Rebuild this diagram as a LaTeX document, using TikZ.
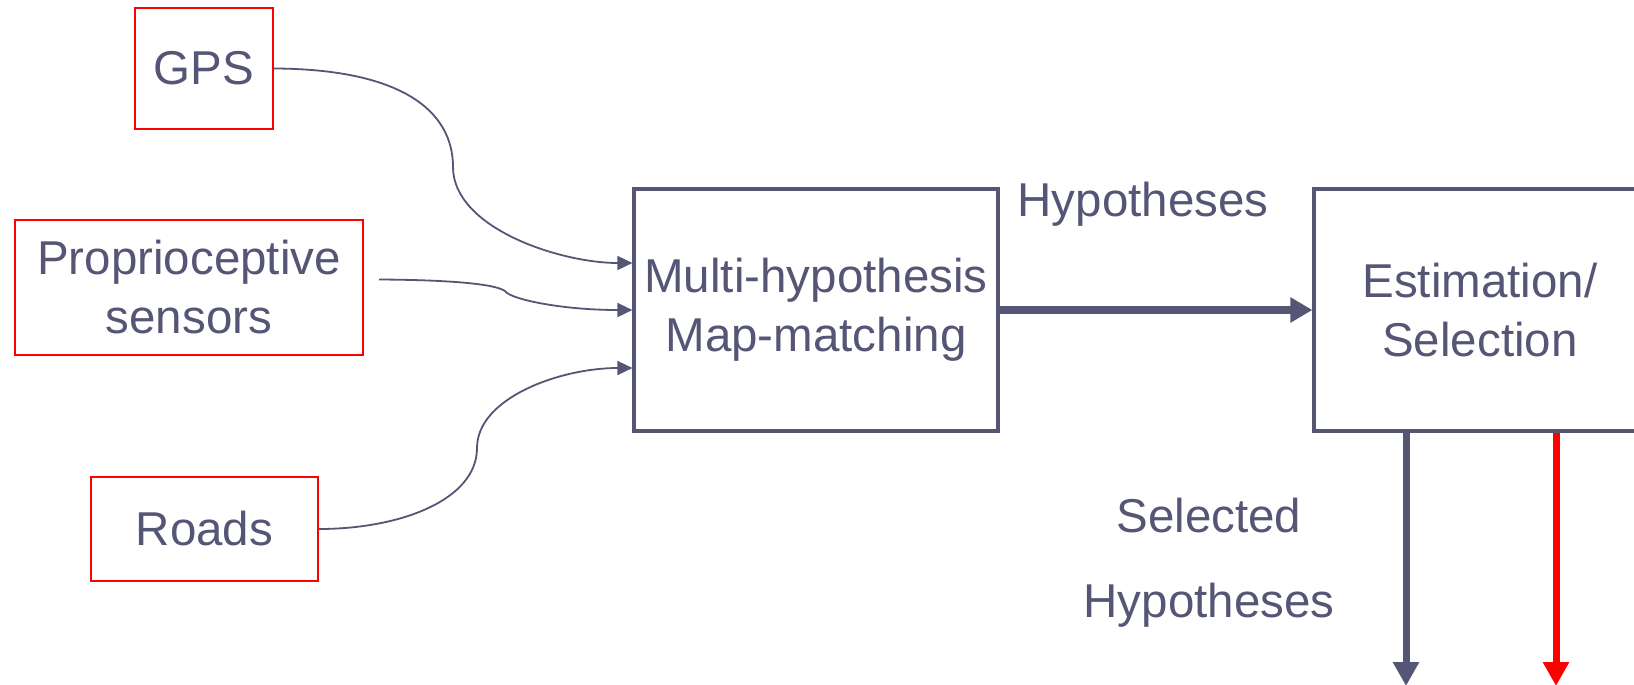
\documentclass[tikz,border=0pt]{standalone}
\usepackage{fontspec}
\setmainfont{Liberation Sans}
\usetikzlibrary{arrows.meta}
\definecolor{slate}{RGB}{85,85,117}
\definecolor{redbox}{RGB}{255,0,0}
\tikzset{
  srcbox/.style={draw=redbox, line width=2pt, inner sep=0pt, align=center, text=slate},
  procbox/.style={draw=slate, line width=3.2pt, inner sep=0pt, align=center, text=slate, minimum height=242pt},
  lbl/.style={text=slate, inner sep=0pt},
  thin/.style={draw=slate, line width=1.8pt, -{Triangle[length=15pt,width=14pt]}},
  thick/.style={draw=slate, line width=8pt, -{Triangle[length=22pt,width=24pt]}},
  down/.style={line width=7pt, -{Triangle[length=24pt,width=25pt]}}
}
\begin{document}
\begin{tikzpicture}[x=1pt,y=-1pt,font=\fontsize{47.5}{59}\selectfont]
\clip (0,0) rectangle (1634,685);
\fill[white] (0,0) rectangle (1634,685);
% sources
\node[srcbox, minimum width=138pt, minimum height=121pt] (gps) at (204,68.5) {GPS};
\node[srcbox, minimum width=348pt, minimum height=135pt] (prop) at (189,287.5) {Proprioceptive\\sensors};
\node[srcbox, minimum width=227pt, minimum height=104pt] (roads) at (204.5,529) {Roads};
% processing
\node[procbox, minimum width=364pt] (mm) at (816,310) {Multi-hypothesis\\Map-matching};
\node[procbox, minimum width=332pt] (est) at (1480,310) {Estimation/\\Selection};
% labels
\node[lbl] (hyp) at (1143,204) {Hypotheses};
\node[lbl] (sel1) at (1209,516) {Selected};
\node[lbl] (sel2) at (1209,605) {Hypotheses};
% connectors
\draw[thin] (gps.east) .. controls (400,69) and (453,110) .. (453,167)
  .. controls (453,228) and (560,263) .. ([shift={(0,-47)}]mm.west);
\draw[thin] ([shift={(15,-8)}]prop.east) .. controls (460,280) and (500,285) .. (506,292)
  .. controls (512,299) and (560,310) .. (mm.west);
\draw[thin] (roads.east) .. controls (400,529) and (477,500) .. (477,448)
  .. controls (477,398) and (560,368) .. ([shift={(0,58)}]mm.west);
\draw[thick] (mm.east) -- (est.west);
\coordinate (g) at (1406,686);
\coordinate (r) at (1556,686);
\draw[down, draw=slate] (est.south -| g) -- (g);
\draw[down, draw=redbox] (est.south -| r) -- (r);
\end{tikzpicture}
\end{document}
